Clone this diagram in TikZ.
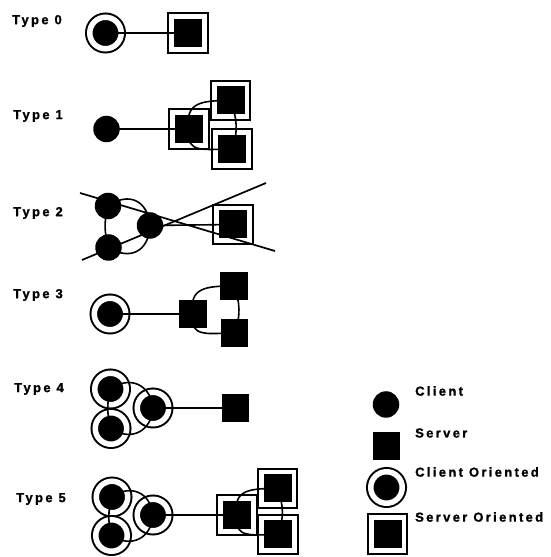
\documentclass[tikz,border=0pt]{standalone}
\usepackage{fontspec}
\newfontfamily\labfont[LetterSpace=18,FakeBold=1.2]{Liberation Sans Bold}
\begin{document}
\begin{tikzpicture}[x=1pt,y=1pt,
  client/.style={circle,fill=black,inner sep=0pt,minimum size=26.5pt},
  server/.style={rectangle,fill=black,inner sep=0pt,minimum size=27.5pt},
  clientor/.style={circle,fill=black,draw=black,inner sep=0pt,minimum size=31.5pt,line width=2pt,double=white,double distance=5.5pt},
  serveror/.style={rectangle,fill=black,draw=black,inner sep=0pt,minimum size=32.85pt,line width=1.9pt,double=white,double distance=4.85pt},
  link/.style={line width=1.6pt},
  cross/.style={line width=1.7pt},
  typelabel/.style={anchor=west,inner sep=0pt,font=\labfont\fontsize{13}{15}\selectfont}]
\useasboundingbox (0,0) rectangle (551,557);

% Type 0
\node[typelabel] (l0) at (12,536) {Type 0};
\node[clientor] (c0) at (105.5,524) {};
\node[serveror] (s0) at (188,524) {};
\draw[link] (c0.center) -- (s0.center);

% Type 1
\node[typelabel] (l1) at (13,441) {Type 1};
\node[client] (c1) at (106.5,428) {};
\node[serveror] (m1) at (189,428) {};
\node[serveror] (t1) at (230.5,456.5) {};
\node[serveror] (b1) at (232,408) {};
\draw[link] (c1.center) -- (m1.center);
\draw[link] (m1.center) to[out=100,in=180,looseness=1.4] (t1.center);
\draw[link] (t1.center) to[out=-70,in=70] (b1.center);
\draw[link] (b1.center) to[out=180,in=-100,looseness=1.4] (m1.center);

% Type 2
\node[typelabel] (l2) at (13,344) {Type 2};
\node[client] (a2) at (108,351) {};
\node[client] (b2) at (108.5,309.5) {};
\node[client] (r2) at (150,331.5) {};
\node[serveror] (s2) at (233,332.5) {};
\draw[link] (a2.center) to[bend left=60,looseness=1.4] (r2.center);
\draw[link] (r2.center) to[bend left=60,looseness=1.4] (b2.center);
\draw[link] (b2.center) to[bend left=15] (a2.center);
\draw[link] (r2.center) -- (s2.center);
\coordinate (x1s) at (80,364);
\coordinate (x1e) at (275,306);
\coordinate (x2s) at (82,297);
\coordinate (x2e) at (266,374);
\draw[cross] (x1s) -- (x1e);
\draw[cross] (x2s) -- (x2e);

% Type 3
\node[typelabel] (l3) at (13,262) {Type 3};
\node[clientor] (c3) at (110,243) {};
\node[server] (m3) at (193,243) {};
\node[server] (t3) at (234,271) {};
\node[server] (b3) at (234.5,224) {};
\draw[link] (c3.center) -- (m3.center);
\draw[link] (m3.center) to[out=100,in=180,looseness=1.4] (t3.center);
\draw[link] (t3.center) to[out=-70,in=70] (b3.center);
\draw[link] (b3.center) to[out=180,in=-100,looseness=1.4] (m3.center);

% Type 4
\node[typelabel] (l4) at (14,168) {Type 4};
\node[clientor] (a4) at (110.5,168) {};
\node[clientor] (b4) at (111,128.5) {};
\node[clientor] (r4) at (153,149) {};
\node[server] (s4) at (235.5,149) {};
\draw[link] (a4.center) to[bend left=60,looseness=1.3] (r4.center);
\draw[link] (r4.center) to[bend left=60,looseness=1.3] (b4.center);
\draw[link] (b4.center) to[bend left=15] (a4.center);
\draw[link] (r4.center) -- (s4.center);

% Type 5
\node[typelabel] (l5) at (16,58) {Type 5};
\node[clientor] (a5) at (112,60) {};
\node[clientor] (b5) at (111.5,21.5) {};
\node[clientor] (r5) at (153,42) {};
\node[serveror] (m5) at (237,42) {};
\node[serveror] (t5) at (277.5,68.5) {};
\node[serveror] (u5) at (278,22.5) {};
\draw[link] (a5.center) to[bend left=60,looseness=1.3] (r5.center);
\draw[link] (r5.center) to[bend left=60,looseness=1.3] (b5.center);
\draw[link] (b5.center) to[bend left=15] (a5.center);
\draw[link] (r5.center) -- (m5.center);
\draw[link] (m5.center) to[out=100,in=180,looseness=1.4] (t5.center);
\draw[link] (t5.center) to[out=-70,in=70] (u5.center);
\draw[link] (u5.center) to[out=180,in=-100,looseness=1.4] (m5.center);

% Legend
\node[client] (k1) at (386,152.5) {};
\node[typelabel] (k1l) at (415,166) {Client};
\node[server] (k2) at (386.5,111) {};
\node[typelabel] (k2l) at (415,124) {Server};
\node[clientor] (k3) at (386.5,69.5) {};
\node[typelabel] (k3l) at (415,85) {Client Oriented};
\node[serveror] (k4) at (387.5,23) {};
\node[typelabel] (k4l) at (415,40) {Server Oriented};
\end{tikzpicture}
\end{document}
